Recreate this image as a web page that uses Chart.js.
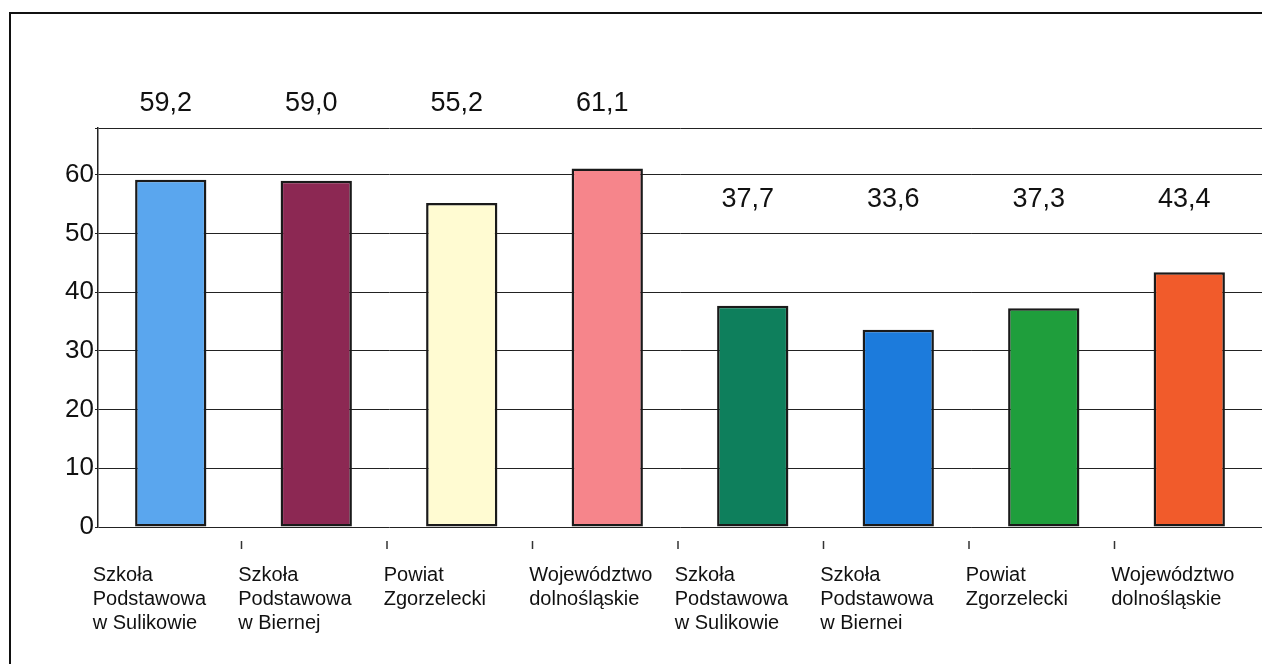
<!DOCTYPE html>
<html>
<head>
<meta charset="utf-8">
<script src="https://cdn.jsdelivr.net/npm/chart.js@4"></script>
<style>
  html, body { margin: 0; padding: 0; background: #fff; }
  #wrap { position: relative; width: 1262px; height: 664px; overflow: hidden; }
  #frame { position: absolute; left: 9px; top: 12px; width: 1300px; height: 700px; border: 2px solid #111; }
  #chart { position: absolute; left: 0; top: 0; }
</style>
</head>
<body>
<div id="wrap">
  <div id="frame"></div>
  <canvas id="chart" width="1262" height="664"></canvas>
</div>
<script>
const categories = [
  ['Szkoła', 'Podstawowa', 'w Sulikowie'],
  ['Szkoła', 'Podstawowa', 'w Biernej'],
  ['Powiat', 'Zgorzelecki'],
  ['Województwo', 'dolnośląskie'],
  ['Szkoła', 'Podstawowa', 'w Sulikowie'],
  ['Szkoła', 'Podstawowa', 'w Biernei'],
  ['Powiat', 'Zgorzelecki'],
  ['Województwo', 'dolnośląskie'],
];
const values = [59.2, 59.0, 55.2, 61.1, 37.7, 33.6, 37.3, 43.4];
const barColors = ['#5aa6ee', '#8c2853', '#fffbd2', '#f6858b', '#0e7f5c', '#1c7bdc', '#1f9e3c', '#f15b2b'];
const yTicks = [0, 10, 20, 30, 40, 50, 60];

const valueLabels = {
  id: 'valueLabels',
  afterDatasetsDraw(chart) {
    const ctx = chart.ctx;
    const x = chart.scales.x;
    const area = chart.chartArea;
    ctx.save();
    ctx.font = '27px "Liberation Sans", Arial, sans-serif';
    ctx.fillStyle = '#111';
    ctx.textAlign = 'center';
    ctx.textBaseline = 'middle';
    values.forEach((v, i) => {
      const y = i < 4 ? area.top - 24 : area.top + 72;
      ctx.fillText(v.toFixed(1).replace('.', ','), x.getPixelForValue(i) - 5, y);
    });
    // small tick marks between categories below the axis
    ctx.strokeStyle = '#333';
    ctx.lineWidth = 1.5;
    for (let i = 1; i < values.length; i++) {
      const px = (x.getPixelForValue(i - 1) + x.getPixelForValue(i)) / 2 - 2;
      ctx.beginPath();
      ctx.moveTo(px, area.bottom + 14);
      ctx.lineTo(px, area.bottom + 22);
      ctx.stroke();
    }
    ctx.restore();
  }
};

new Chart(document.getElementById('chart'), {
  type: 'bar',
  data: {
    labels: categories,
    datasets: [{
      data: values,
      backgroundColor: barColors,
      borderColor: '#1a1a1a',
      borderWidth: 2.5,
      borderSkipped: false,
      barPercentage: 0.49,
      categoryPercentage: 1,
    }],
  },
  options: {
    responsive: false,
    animation: false,
    layout: { padding: { top: 128, left: 0, right: 0, bottom: 0 } },
    plugins: { legend: { display: false }, tooltip: { enabled: false } },
    scales: {
      x: {
        grid: { display: false },
        border: { display: false },
        afterFit(scale) {
          scale.height = 137;
          scale.paddingLeft = 0;
          scale.paddingRight = 0;
        },
        ticks: {
          color: '#111',
          font: { family: '"Liberation Sans", Arial, sans-serif', size: 20, lineHeight: 1.18 },
          align: 'start',
          labelOffset: -78,
          padding: 29,
          maxRotation: 0,
          autoSkip: false,
        },
      },
      y: {
        min: 0,
        max: 68,
        afterFit(scale) { scale.width = 98; },
        afterBuildTicks(scale) {
          scale.ticks = yTicks.map(v => ({ value: v })).concat([{ value: 68 }]);
        },
        grid: { color: '#222', lineWidth: 1, tickLength: 3 },
        border: { display: true, color: '#222', width: 1.5 },
        ticks: {
          color: '#111',
          font: { family: '"Liberation Sans", Arial, sans-serif', size: 26 },
          padding: 1,
          callback: v => (yTicks.includes(v) ? v : ''),
        },
      },
    },
  },
  plugins: [valueLabels],
});
</script>
</body>
</html>
